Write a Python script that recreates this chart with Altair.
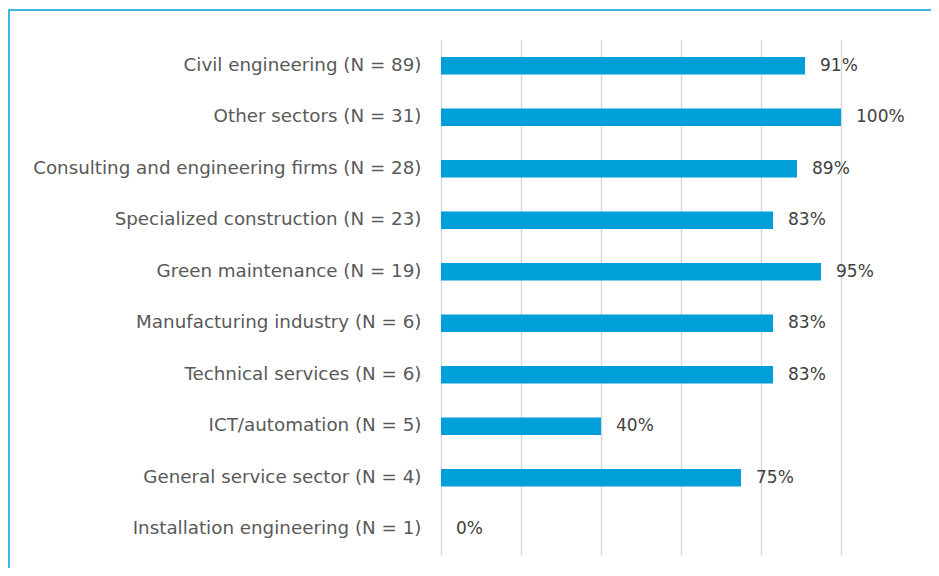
import altair as alt
import pandas as pd

sectors = [
    "Civil engineering (N = 89)",
    "Other sectors (N = 31)",
    "Consulting and engineering firms (N = 28)",
    "Specialized construction (N = 23)",
    "Green maintenance (N = 19)",
    "Manufacturing industry (N = 6)",
    "Technical services (N = 6)",
    "ICT/automation (N = 5)",
    "General service sector (N = 4)",
    "Installation engineering (N = 1)",
]
percent = [91, 100, 89, 83, 95, 83, 83, 40, 75, 0]

df = pd.DataFrame({"sector": sectors, "pct": percent})
df["label"] = df["pct"].astype(str) + "%"

FONT = "DejaVu Sans"

y_enc = alt.Y(
    "sector:N",
    sort=sectors,
    title=None,
    scale=alt.Scale(paddingInner=0.3, paddingOuter=0.15),
    axis=alt.Axis(
        ticks=False,
        domain=False,
        grid=False,
        labelPadding=20,
        labelFontSize=18.3,
        labelFont=FONT,
        labelColor="#595959",
        labelLimit=500,
    ),
)
x_enc = alt.X(
    "pct:Q",
    title=None,
    scale=alt.Scale(domain=[0, 100], nice=False),
    axis=alt.Axis(
        values=[0, 20, 40, 60, 80, 100],
        labels=False,
        ticks=False,
        domain=False,
        grid=True,
        gridColor="#D9D9D9",
        gridWidth=1.5,
    ),
)

bars = alt.Chart(df).mark_bar(color="#009FDA", size=17.5).encode(x=x_enc, y=y_enc)

text = alt.Chart(df).mark_text(
    align="left", baseline="middle", dx=15, fontSize=17, font=FONT, color="#404040"
).encode(x="pct:Q", y=alt.Y("sector:N", sort=sectors), text="label:N")

border = alt.Chart(pd.DataFrame({"a": [0]})).mark_rect(
    fill=None, stroke="#00A0E0", strokeWidth=1.5
).encode(
    x=alt.value(-432), x2=alt.value(700), y=alt.value(-30), y2=alt.value(700)
)

chart = (
    alt.layer(border, bars, text)
    .properties(
        width=400,
        height=515,
        autosize=alt.AutoSizeParams(type="none"),
        padding={"left": 433, "top": 32, "right": 90, "bottom": 13},
        background="white",
    )
    .configure_view(stroke=None)
)

chart.save("out.html", embed_options={"renderer": "svg", "actions": False})
